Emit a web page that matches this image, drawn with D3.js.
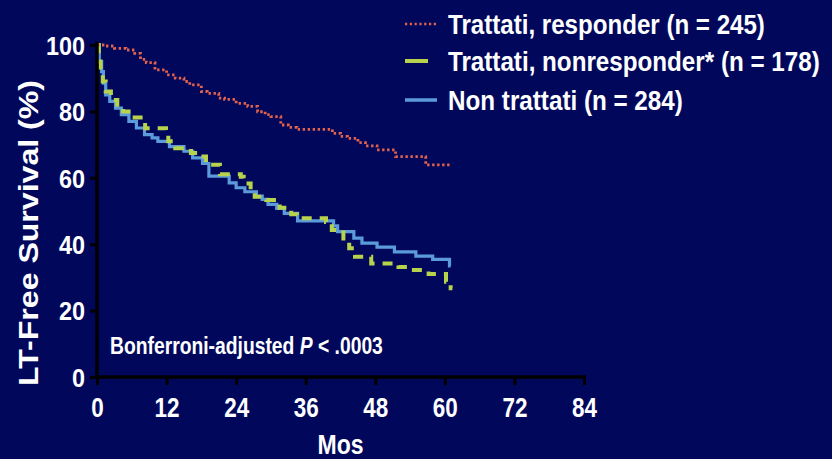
<!DOCTYPE html>
<html>
<head>
<meta charset="utf-8">
<script src="https://cdn.jsdelivr.net/npm/d3@7"></script>
<style>
  html, body { margin: 0; padding: 0; background: #01085c; }
  svg { display: block; }
  text { font-family: "Liberation Sans Narrow", "Liberation Sans", Arial, sans-serif; font-weight: bold; fill: #ffffff; }
</style>
</head>
<body>
<svg id="chart" width="832" height="459"></svg>
<script>
// Kaplan-Meier step data: [month, LT-free survival %]
const responder = [
  [0, 100], [1.5, 99.7], [3, 99], [5, 98.5], [6.5, 97.5], [7.5, 95.7], [8.5, 94.7],
  [10, 92.5], [12, 91], [13.5, 90], [15, 89], [16, 88], [18, 86], [19, 85.4], [21, 84],
  [22, 83.6], [24, 82.4], [26, 81.5], [27.7, 79.9], [29, 79], [30, 78.4], [31.7, 75.9],
  [33, 75.2], [34.5, 74.6], [40.6, 73.4], [42, 72.5], [43.2, 71.9], [45, 70.6], [46.3, 69.6],
  [48.3, 68.4], [51.5, 66.4], [56.7, 63.9], [61, 63.9]
];
const nonresponder = [
  [0, 100], [0.3, 95], [0.6, 91], [1.0, 89], [1.5, 86], [2.4, 83.4], [3.5, 81], [4.5, 80],
  [6, 78.2], [8.3, 74.9], [11.9, 73.9], [12.3, 71], [13.5, 68.9], [16.2, 67.5], [17.5, 66.4],
  [18.8, 63.9], [21.2, 61.1], [24.8, 60.3], [25.3, 58.3], [26.5, 56.3], [27.2, 54.3],
  [29.2, 53.3], [31.5, 51], [33.5, 49], [34.5, 47.8], [39.5, 46.7], [40.5, 44.3],
  [42.5, 40.8], [43.5, 38.8], [44.5, 36.2], [47.3, 34.2], [52, 33.1], [54, 32.2],
  [57.2, 31], [60.2, 28.7], [61, 26.7], [61.3, 26.7]
];
const untreated = [
  [0, 100], [0.4, 95], [0.8, 92], [1.1, 88.5], [1.5, 85], [2.2, 83], [3.2, 81], [4.2, 79],
  [5.5, 77], [6.8, 75], [8.2, 73], [9.5, 72], [10.5, 71], [12.5, 69.4], [15, 68], [16.5, 66],
  [18.2, 64.3], [19.3, 60.5], [22.8, 58.5], [24, 57], [25.5, 55.8], [27.5, 54.5], [28.5, 53.5],
  [29.5, 52], [31, 50.8], [32.3, 49.3], [34.6, 47], [40.8, 45.5], [41.5, 43.8], [44.3, 41.8],
  [45.7, 40.3], [48.3, 39.1], [51.3, 37.7], [55, 36.4], [57.9, 35.4], [60.8, 33.5], [61, 33.5]
];

const seriesNames = ["Trattati, responder (n = 245)", "Trattati, nonresponder* (n = 178)", "Non trattati (n = 284)"];
const xTicks = [0, 12, 24, 36, 48, 60, 72, 84];
const yTicks = [0, 20, 40, 60, 80, 100];

const svg = d3.select("#chart");

const x = d3.scaleLinear().domain([0, 84]).range([97, 584]);
const y = d3.scaleLinear().domain([0, 100]).range([377, 45]);

// squeeze a text horizontally around its anchor so it spans the given width
function fitWidth(sel, width, anchorX) {
  const node = sel.node();
  const w = node.getComputedTextLength();
  const k = width / w;
  sel.attr("transform", `translate(${anchorX},0) scale(${k},1) translate(${-anchorX},0)`);
}

const line = d3.line()
  .x(d => x(d[0]))
  .y(d => y(d[1]))
  .curve(d3.curveStepAfter);

// survival curves
svg.append("path").datum(untreated)
  .attr("d", line).attr("fill", "none")
  .attr("stroke", "#5b9bdc").attr("stroke-width", 3.2);

svg.append("path").datum(nonresponder)
  .attr("d", line).attr("fill", "none")
  .attr("stroke", "#b7d24c").attr("stroke-width", 4)
  .attr("stroke-dasharray", "10 8");

svg.append("path").datum(responder)
  .attr("d", line).attr("fill", "none")
  .attr("stroke", "#e2624e").attr("stroke-width", 2.8)
  .attr("stroke-dasharray", "2.4 2.6");

// axes
const xAxis = svg.append("g")
  .attr("transform", `translate(0,${y(0)})`)
  .call(d3.axisBottom(x).tickValues(xTicks).tickSize(8).tickSizeOuter(0).tickPadding(12));
const yAxis = svg.append("g")
  .attr("transform", `translate(${x(0)},0)`)
  .call(d3.axisLeft(y).tickValues(yTicks).tickSize(7).tickSizeOuter(0).tickPadding(5));

[xAxis, yAxis].forEach(g => {
  g.select(".domain").remove();
  g.selectAll(".tick line").attr("stroke", "#000").attr("stroke-width", 3);
  g.selectAll(".tick text").attr("fill", "#fff")
    .style("font-family", '"Liberation Sans Narrow", "Liberation Sans", Arial, sans-serif')
    .style("font-weight", "bold");
});
xAxis.selectAll(".tick text").style("font-size", "28px").attr("dy", "0.72em")
  .attr("textLength", d => String(d).length * 12.5).attr("lengthAdjust", "spacingAndGlyphs");
yAxis.selectAll(".tick text").style("font-size", "26px").attr("dy", "0.36em")
  .attr("textLength", d => String(d).length * 13).attr("lengthAdjust", "spacingAndGlyphs");

svg.append("line")
  .attr("x1", x(0)).attr("x2", x(84)).attr("y1", y(0)).attr("y2", y(0))
  .attr("stroke", "#000").attr("stroke-width", 3.5).attr("stroke-linecap", "square");
svg.append("line")
  .attr("x1", x(0)).attr("x2", x(0)).attr("y1", y(0)).attr("y2", y(101))
  .attr("stroke", "#000").attr("stroke-width", 3.5);

// axis titles
svg.append("text")
  .attr("x", x(42)).attr("y", 454)
  .attr("text-anchor", "middle")
  .attr("textLength", 46).attr("lengthAdjust", "spacingAndGlyphs")
  .style("font-size", "27px")
  .text("Mos");

svg.append("text")
  .attr("transform", `translate(38,233) rotate(-90)`)
  .attr("text-anchor", "middle")
  .attr("textLength", 306).attr("lengthAdjust", "spacingAndGlyphs")
  .style("font-size", "27px")
  .text("LT-Free Survival (%)");

// p-value annotation
const ann = svg.append("text")
  .attr("x", 110).attr("y", 354)
  .style("font-size", "24px");
ann.append("tspan").text("Bonferroni-adjusted ");
ann.append("tspan").style("font-style", "italic").text("P");
ann.append("tspan").text(" < .0003");
fitWidth(ann, 273, 110);

// legend
const legendStyles = [
  { color: "#e2624e", width: 2.4, dash: "2.2 2.6", x2: 438 },
  { color: "#b7d24c", width: 4, dash: null, x2: 428 },
  { color: "#5b9bdc", width: 3.5, dash: null, x2: 437 }
];
const legendWidths = [317, 372, 235];
const legendY = [24, 61, 100];

seriesNames.forEach((name, i) => {
  const s = legendStyles[i];
  const ln = svg.append("line")
    .attr("x1", 405).attr("x2", s.x2)
    .attr("y1", legendY[i]).attr("y2", legendY[i])
    .attr("stroke", s.color).attr("stroke-width", s.width);
  if (s.dash) ln.attr("stroke-dasharray", s.dash);
  const t = svg.append("text")
    .attr("x", 448).attr("y", legendY[i] + 10)
    .style("font-size", "27px")
    .text(name);
  fitWidth(t, legendWidths[i], 448);
});
</script>
</body>
</html>
